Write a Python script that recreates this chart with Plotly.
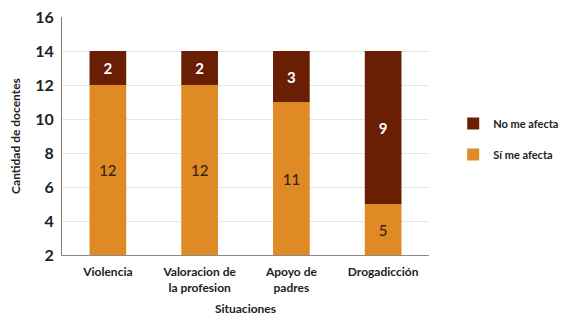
import plotly.graph_objects as go

categories = ["Violencia", "Valoracion de<br>la profesion", "Apoyo de<br>padres", "Drogadicción"]
si_me_afecta = [12, 12, 11, 5]
no_me_afecta = [2, 2, 3, 9]
y_ticks = [2, 4, 6, 8, 10, 12, 14, 16]
y_min, y_max = 2, 16

ORANGE = "#E08A25"
BROWN = "#6A1E03"
FONT = "Lato"

fig = go.Figure()
fig.add_trace(go.Bar(
    x=categories, y=no_me_afecta, base=si_me_afecta,
    name="No me afecta", legendgroup="no",
    marker=dict(color=BROWN, line=dict(width=0)),
    customdata=no_me_afecta, texttemplate="%{customdata}",
    textposition="inside", insidetextanchor="middle",
    textfont=dict(color="white", size=15, family=FONT, weight=700), width=0.4,
    hoverinfo="skip",
))
fig.add_trace(go.Bar(
    x=categories, y=[v - y_min for v in si_me_afecta], base=[y_min] * len(si_me_afecta),
    name="Sí me afecta", legendgroup="si",
    marker=dict(color=ORANGE, line=dict(width=0)),
    customdata=si_me_afecta, texttemplate="%{customdata}",
    textposition="inside", insidetextanchor="middle",
    textfont=dict(color="#3a2410", size=15, family=FONT, weight=500), width=0.4,
    hoverinfo="skip",
))

fig.update_layout(
    barmode="overlay",
    width=565, height=318,
    margin=dict(l=62, r=136, t=17, b=63, autoexpand=False),
    paper_bgcolor="white", plot_bgcolor="white",
    font=dict(family=FONT, color="#222"),
    showlegend=True,
    legend=dict(
        x=1.066, y=0.487, xanchor="left", yanchor="middle",
        traceorder="grouped", tracegroupgap=12,
        font=dict(size=11, family=FONT, color="#222", weight=700),
        itemwidth=30,
    ),
    uniformtext=dict(mode=False),
)
fig.update_yaxes(
    range=[y_min, y_max], tickvals=y_ticks, showgrid=True, gridcolor="#e6e6e6",
    showline=True, linecolor="#8a7566", linewidth=1, ticks="", zeroline=False,
    automargin=False, ticklabelstandoff=4,
    tickfont=dict(size=16, family=FONT, color="#222", weight=700),
    title=dict(text="Cantidad de docentes", font=dict(size=12, family=FONT, weight=700), standoff=12),
)
fig.update_xaxes(
    showline=True, linecolor="#8a8a8a", linewidth=1, ticks="",
    automargin=False, ticklabelstandoff=6,
    tickfont=dict(size=12, family=FONT, color="#222", weight=700),
    title=dict(text="Situaciones", font=dict(size=12, family=FONT, weight=700), standoff=10),
)

fig.write_html("out.html", config={"displayModeBar": False},
               post_script="document.body.style.margin='0';")
